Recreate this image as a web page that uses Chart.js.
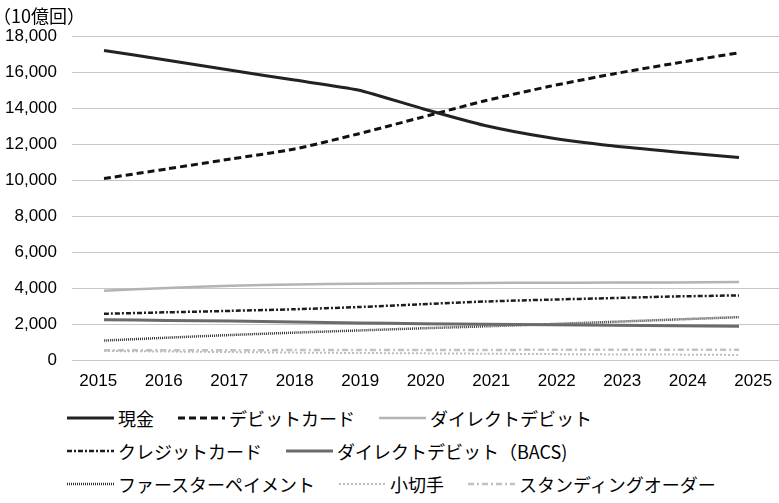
<!DOCTYPE html>
<html lang="ja">
<head>
<meta charset="utf-8">
<script src="https://cdn.jsdelivr.net/npm/chart.js@4/dist/chart.umd.min.js"></script>
<style>
  html, body { margin: 0; padding: 0; background: #fff; }
  #wrap { position: relative; width: 779px; height: 503px; overflow: hidden;
          font-family: "Noto Sans CJK JP", "Noto Sans", sans-serif; color: #000; }
  #unit { position: absolute; left: -7px; top: 3px; font-size: 18px; line-height: 24px; }
  #box { position: absolute; left: 0; top: 0; width: 779px; height: 400px; }
  #legend { position: absolute; left: 67px; top: 401px; font-size: 18px; }
  .row { display: flex; align-items: center; height: 33px; white-space: nowrap; }
  .item { display: flex; align-items: center; margin-right: 24px; }
  .item svg { display: block; margin-right: 4px; }
</style>
</head>
<body>
<div id="wrap">
  <div id="box"><canvas id="chart"></canvas></div>
  <div id="unit">（10億回）</div>
  <div id="legend"></div>
</div>
<script>
// Payment volumes by method, billions of transactions
const years = [2015, 2016, 2017, 2018, 2019, 2020, 2021, 2022, 2023, 2024, 2025];
const cash          = [17200, 16650, 16100, 15550, 15000, 13980, 13030, 12360, 11900, 11560, 11250];
const debitCard     = [10080, 10620, 11170, 11720, 12560, 13480, 14400, 15190, 15880, 16490, 17070];
const directDebit   = [3850, 4000, 4120, 4200, 4230, 4260, 4280, 4290, 4300, 4310, 4330];
const creditCard    = [2570, 2650, 2730, 2820, 2940, 3100, 3250, 3350, 3440, 3530, 3590];
const bacs          = [2240, 2200, 2160, 2110, 2060, 2020, 1990, 1960, 1930, 1900, 1880];
const fasterPayment = [1080, 1240, 1390, 1520, 1640, 1760, 1870, 1990, 2120, 2250, 2380];
const cheques       = [500, 470, 440, 410, 390, 370, 350, 330, 310, 300, 280];
const standingOrder = [540, 540, 545, 550, 555, 560, 560, 565, 570, 570, 575];
const yTicks = [0, 2000, 4000, 6000, 8000, 10000, 12000, 14000, 16000, 18000];

const series = [
  { label: '現金',                 values: cash,          color: '#222222', width: 3,   dash: [] },
  { label: 'デビットカード',       values: debitCard,     color: '#111111', width: 3,   dash: [7, 4] },
  { label: 'ダイレクトデビット',   values: directDebit,   color: '#b3b3b3', width: 2.5, dash: [] },
  { label: 'クレジットカード',     values: creditCard,    color: '#1e1e1e', width: 2.5, dash: [5, 2, 2, 2] },
  { label: 'ダイレクトデビット（BACS)', values: bacs,     color: '#6b6b6b', width: 3,   dash: [] },
  { label: 'ファースターペイメント', values: fasterPayment, color: '#333333', width: 2.5, dash: [1, 1] },
  { label: '小切手',               values: cheques,       color: '#bdbdbd', width: 2,   dash: [2, 2] },
  { label: 'スタンディングオーダー', values: standingOrder, color: '#c2c2c2', width: 2.5, dash: [6, 3, 2, 3] }
];
const legendRows = [[0, 1, 2], [3, 4], [5, 6, 7]];

const tickFont = { family: '"Liberation Sans", Arial, sans-serif', size: 17 };

new Chart(document.getElementById('chart'), {
  type: 'line',
  data: {
    datasets: series.map(s => ({
      label: s.label,
      data: s.values.map((v, i) => ({ x: i, y: v })),
      borderColor: s.color,
      backgroundColor: s.color,
      borderWidth: s.width,
      borderDash: s.dash,
      borderCapStyle: 'butt',
      pointRadius: 0,
      tension: 0.2,
      fill: false,
      xAxisID: 'x',
      yAxisID: 'y'
    }))
  },
  options: {
    responsive: true,
    maintainAspectRatio: false,
    animation: false,
    events: [],
    layout: { padding: { top: 36, right: 0, bottom: 0, left: 0 } },
    plugins: { legend: { display: false }, tooltip: { enabled: false } },
    scales: {
      x: {
        type: 'linear', display: false, min: -0.504, max: 10.63
      },
      xl: {
        type: 'linear', position: 'bottom', min: 2014.6, max: 2025.394,
        afterBuildTicks: axis => { axis.ticks = years.map(v => ({ value: v })); },
        afterFit: axis => { axis.height = 40; },
        grid: { display: false },
        border: { display: false },
        ticks: { color: '#000', font: tickFont, padding: 3, maxRotation: 0, autoSkip: false,
                 callback: v => String(v) }
      },
      y: {
        min: 0, max: 18000,
        afterBuildTicks: axis => { axis.ticks = yTicks.map(v => ({ value: v })); },
        afterFit: axis => { axis.width = 72; },
        grid: { color: '#c6c6c6', lineWidth: 1, drawTicks: false },
        border: { display: false },
        ticks: { color: '#000', font: tickFont, padding: 15,
                 callback: v => v.toLocaleString('en-US') }
      }
    }
  }
});

// Legend built from the same series list
const legend = document.getElementById('legend');
const svgNS = 'http://www.w3.org/2000/svg';
legendRows.forEach(row => {
  const rowEl = document.createElement('div');
  rowEl.className = 'row';
  row.forEach(idx => {
    const s = series[idx];
    const item = document.createElement('div');
    item.className = 'item';
    const svg = document.createElementNS(svgNS, 'svg');
    svg.setAttribute('width', '47');
    svg.setAttribute('height', '10');
    const line = document.createElementNS(svgNS, 'line');
    line.setAttribute('x1', '0'); line.setAttribute('y1', '5');
    line.setAttribute('x2', '47'); line.setAttribute('y2', '5');
    line.setAttribute('stroke', s.color);
    line.setAttribute('stroke-width', String(s.width));
    if (s.dash.length) line.setAttribute('stroke-dasharray', s.dash.join(' '));
    svg.appendChild(line);
    const text = document.createElement('span');
    text.textContent = s.label;
    item.appendChild(svg);
    item.appendChild(text);
    rowEl.appendChild(item);
  });
  legend.appendChild(rowEl);
});
</script>
</body>
</html>
